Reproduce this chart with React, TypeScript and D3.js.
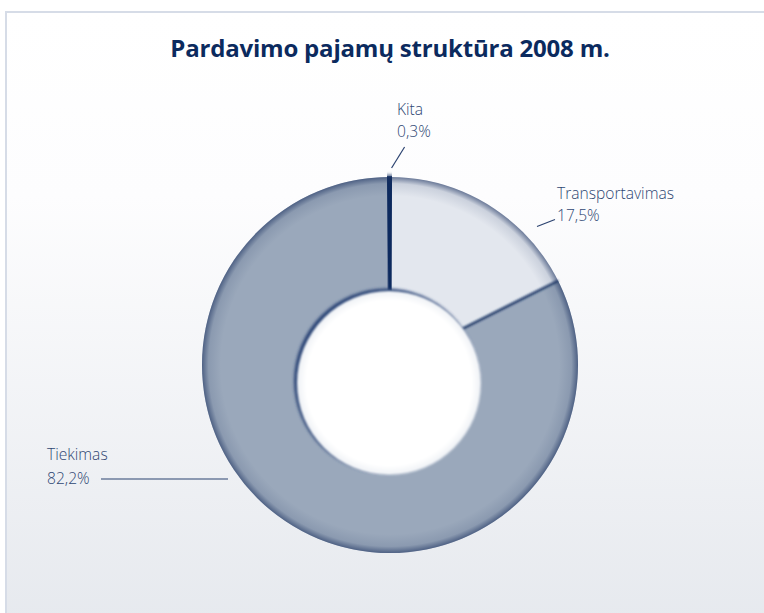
import React from 'react';
import * as d3 from 'd3';

const categories = ['Kita', 'Transportavimas', 'Tiekimas'];
const shares = [0.3, 17.5, 82.2];
const valueLabels = ['0,3%', '17,5%', '82,2%'];
const sliceColors = ['#0d2a5e', '#e3e7ee', '#9aa8bb'];

const W = 764;
const H = 613;

const App = () => {
  const cx = 390;
  const cy = 365;
  const outerR = 188;

  const pie = d3.pie<number>().sort(null).startAngle(-0.012).endAngle(2 * Math.PI - 0.012);
  const arcs = pie(shares);
  const arc = d3.arc<d3.PieArcDatum<number>>().innerRadius(0).outerRadius(outerR);

  // leader line / label layout (annotation)
  const polar = (a: number, r: number) => [cx + r * Math.sin(a), cy - r * Math.cos(a)];
  const kitaA = arcs[0].startAngle + 0.02;
  const [k1x, k1y] = polar(kitaA, 197);
  const trA = 0.815;
  const [t1x, t1y] = polar(trA, 202);

  return (
    <svg width={W} height={H} style={{ position: 'absolute', left: 0, top: 0, display: 'block' }}
      fontFamily="'Open Sans', 'Noto Sans', sans-serif">
      <defs>
        <linearGradient id="bg" x1="0" y1="0" x2="0" y2="1">
          <stop offset="0" stopColor="#ffffff" />
          <stop offset="0.3" stopColor="#fdfdfe" />
          <stop offset="1" stopColor="#e6e9ee" />
        </linearGradient>
        <radialGradient id="rim" cx="0.5" cy="0.5" r="0.5">
          <stop offset="0.9" stopColor="#1c3260" stopOpacity="0" />
          <stop offset="0.965" stopColor="#1c3260" stopOpacity="0.12" />
          <stop offset="1" stopColor="#1c3260" stopOpacity="0.6" />
        </radialGradient>
        <radialGradient id="hole" cx="0.5" cy="0.5" r="0.5">
          <stop offset="0.9" stopColor="#ffffff" />
          <stop offset="1" stopColor="#eef1f5" />
        </radialGradient>
        <filter id="soft" x="-20%" y="-20%" width="140%" height="140%">
          <feGaussianBlur stdDeviation="1.8" />
        </filter>
        <filter id="soft2" x="-20%" y="-20%" width="140%" height="140%">
          <feGaussianBlur stdDeviation="0.8" />
        </filter>
      </defs>

      <rect x={6} y={12} width={W} height={H} fill="url(#bg)" stroke="#d6dce7" strokeWidth={2} />

      <text x={390} y={57} textAnchor="middle" fontSize={24} fontWeight={700} fill="#0b2a5e"
        style={{ letterSpacing: '-0.2px' }}>
        Pardavimo pajamų struktūra 2008 m.
      </text>

      <g transform={`translate(${cx},${cy})`}>
        {arcs.map((d, i) => (
          <path key={categories[i]} d={arc(d) || ''} fill={sliceColors[i]} />
        ))}
        {/* Kita sliver edge */}
        <path d={arc(arcs[0]) || ''} fill="none" stroke="#5f7193" strokeWidth={5} filter="url(#soft)" />
        <path d={arc(arcs[0]) || ''} fill={sliceColors[0]} stroke={sliceColors[0]} strokeWidth={1.5} />
        {/* slice separator */}
        {arcs.slice(2).map((d, i) => {
          const a = d.startAngle;
          const [x2, y2] = [outerR * Math.sin(a), -outerR * Math.cos(a)];
          return (
            <line key={'sep' + i} x1={0} y1={0} x2={x2} y2={y2} stroke="#1f3766" strokeWidth={2.4}
              filter="url(#soft2)" />
          );
        })}
        <circle r={outerR} fill="url(#rim)" />
      </g>

      {/* hole */}
      <circle cx={cx - 3.5} cy={cy + 16} r={92.5} fill="#2c4476" filter="url(#soft)" />
      <circle cx={cx - 1} cy={cy + 18} r={92} fill="url(#hole)" filter="url(#soft2)" />

      {/* labels */}
      <g fill="#2f4773" fontSize={15.6} fontWeight={300}>
        <line x1={k1x} y1={k1y} x2={k1x + 13} y2={k1y - 21} stroke="#2b4270" strokeWidth={1.2} />
        <text x={397} y={115}>{categories[0]}</text>
        <text x={397} y={137}>{valueLabels[0]}</text>

        <line x1={t1x} y1={t1y} x2={t1x + 18} y2={t1y - 7} stroke="#2b4270" strokeWidth={1.2} />
        <text x={557} y={199}>{categories[1]}</text>
        <text x={557} y={221}>{valueLabels[1]}</text>

        <line x1={101} y1={479} x2={228} y2={479} stroke="#2b4270" strokeWidth={1.2} />
        <text x={47} y={460}>{categories[2]}</text>
        <text x={47} y={484}>{valueLabels[2]}</text>
      </g>
    </svg>
  );
};

export default App;
